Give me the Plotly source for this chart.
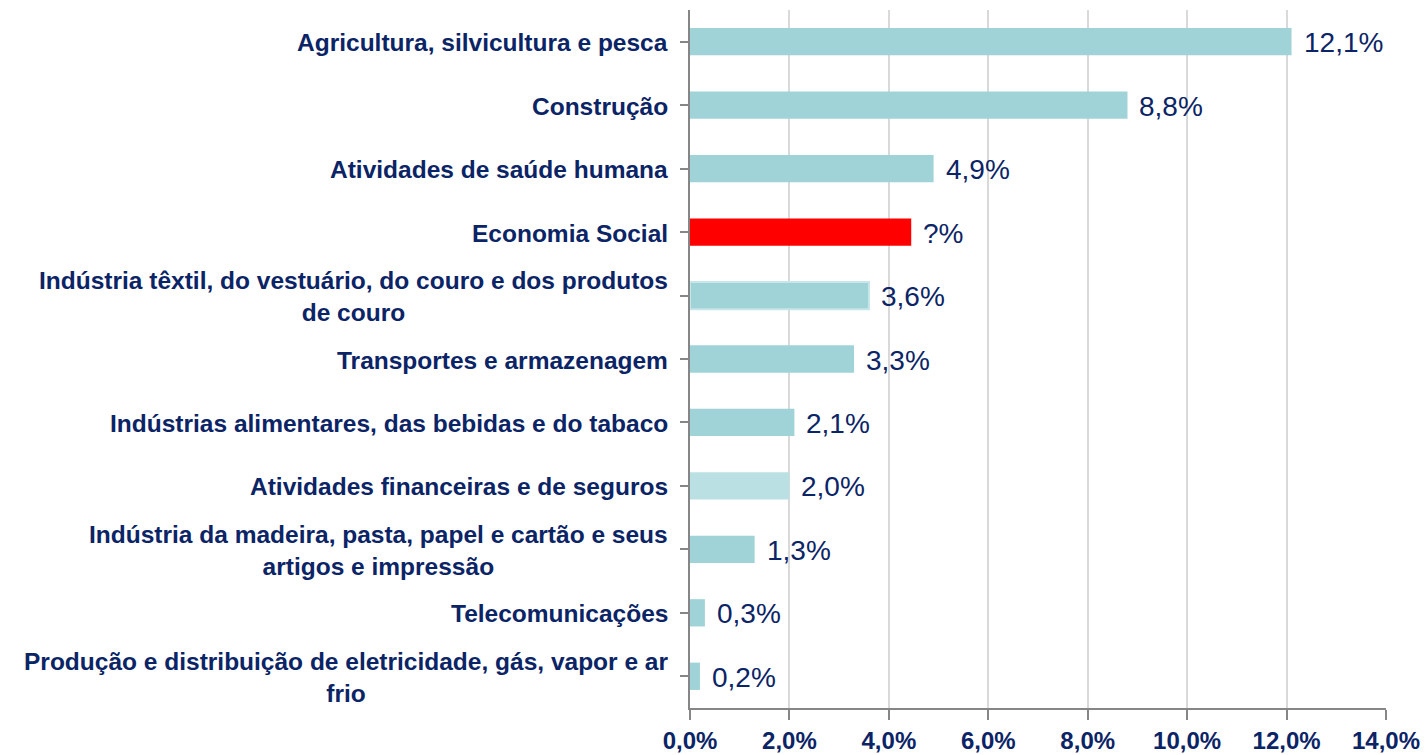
import plotly.graph_objects as go

# Sectors (top to bottom) and their shares
sectors = [
    "Agricultura, silvicultura e pesca",
    "Construção",
    "Atividades de saúde humana",
    "Economia Social",
    "Indústria têxtil, do vestuário, do couro e dos produtos<br>de couro",
    "Transportes e armazenagem",
    "Indústrias alimentares, das bebidas e do tabaco",
    "Atividades financeiras e de seguros",
    "Indústria da madeira, pasta, papel e cartão e seus<br>artigos e impressão",
    "Telecomunicações",
    "Produção e distribuição de eletricidade, gás, vapor e ar<br>frio",
]
values = [12.1, 8.8, 4.9, 4.45, 3.6, 3.3, 2.1, 2.0, 1.3, 0.3, 0.2]
value_labels = ["12,1%", "8,8%", "4,9%", "?%", "3,6%", "3,3%", "2,1%", "2,0%", "1,3%", "0,3%", "0,2%"]
bar_colors = ["#9FD3D7", "#9FD3D7", "#9FD3D7", "#FF0000", "#9FD3D7", "#9FD3D7",
              "#9FD3D7", "#BBE0E3", "#9FD3D7", "#9FD3D7", "#9FD3D7"]
edge_colors = ["rgba(0,0,0,0)"] * 4 + ["#C6E6E9"] + ["rgba(0,0,0,0)"] * 6
x_ticks = [0, 2, 4, 6, 8, 10, 12, 14]
x_tick_text = ["0,0%", "2,0%", "4,0%", "6,0%", "8,0%", "10,0%", "12,0%", "14,0%"]

NAVY = "#0B2466"
FONT = "Liberation Sans, Arial, sans-serif"

positions = list(range(len(sectors)))

fig = go.Figure(
    go.Bar(
        x=values,
        y=positions,
        orientation="h",
        marker=dict(color=bar_colors, line=dict(color=edge_colors, width=2)),
        width=0.43,
        hoverinfo="x+y",
    )
)

# Category labels, centred line-by-line and right-aligned to the axis
for i, name in enumerate(sectors):
    fig.add_annotation(
        x=0, xref="paper", y=i, yref="y",
        text=name, showarrow=False,
        xanchor="right", yanchor="middle", align="center",
        xshift=-20, yshift=-1,
        font=dict(family=FONT, size=24.5, color=NAVY, weight="bold"),
    )

# Value labels just past the end of each bar
for i, (v, lab) in enumerate(zip(values, value_labels)):
    fig.add_annotation(
        x=v, xref="x", y=i, yref="y",
        text=lab, showarrow=False,
        xanchor="left", yanchor="middle",
        xshift=10, yshift=-1,
        font=dict(family=FONT, size=28, color=NAVY),
    )

fig.update_layout(
    width=1425, height=755,
    margin=dict(l=690, r=39, t=10, b=47),
    plot_bgcolor="white", paper_bgcolor="white",
    showlegend=False,
    xaxis=dict(
        range=[0, 14], tickvals=x_ticks, ticktext=x_tick_text,
        showgrid=True, gridcolor="#D9D9D9", gridwidth=2,
        showline=True, linecolor="#868686", linewidth=2,
        ticks="outside", ticklen=10, tickwidth=2, tickcolor="#868686",
        tickfont=dict(family=FONT, size=24, color=NAVY, weight="bold"),
        ticklabelstandoff=0,
        automargin=False,
        zeroline=False, fixedrange=True,
    ),
    yaxis=dict(
        range=[len(sectors) - 0.5, -0.5],
        tickvals=positions,
        showticklabels=False,
        tickson="boundaries",
        ticks="outside", ticklen=8, tickwidth=2, tickcolor="#868686",
        showline=True, linecolor="#868686", linewidth=2,
        showgrid=False, zeroline=False, fixedrange=True,
        automargin=False,
    ),
)

fig.write_html("out.html")
